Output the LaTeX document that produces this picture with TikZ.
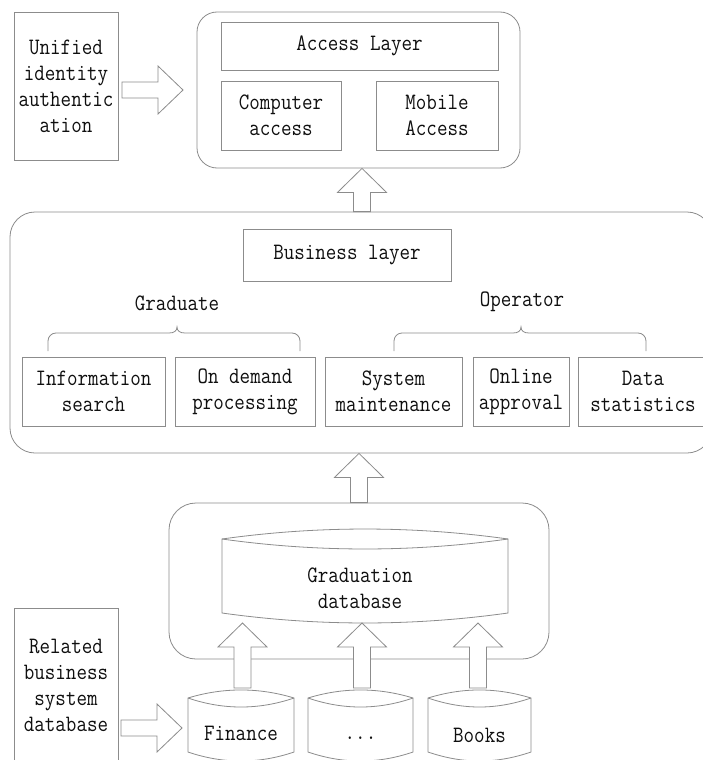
\documentclass[tikz,border=0pt]{standalone}
\usepackage{fontspec}
\setmonofont{Latin Modern Mono}[FakeStretch=0.87]
\usetikzlibrary{calc}
\definecolor{linec}{RGB}{140,140,140}
\definecolor{txtc}{RGB}{15,15,15}
\tikzset{
  box/.style={draw=linec, line width=0.8pt, fill=white, inner sep=0pt, align=center, text=txtc, font=\ttfamily\fontsize{23.5}{26}\selectfont},
  cont/.style={draw=linec, line width=0.8pt, inner sep=0pt},
  lbl/.style={inner sep=0pt, align=center, text=txtc, font=\ttfamily\fontsize{23.5}{26}\selectfont},
  arr/.style={draw=linec, line width=0.8pt, fill=white, line join=miter},
  cyl/.style={draw=linec, line width=0.8pt},
  brace/.style={draw=linec, line width=0.8pt},
}
\newcommand\uparr[2]{\draw[arr] let \p1=(#1), \p2=(#2) in
  (\x1-8.5pt,\y1) -- (\x1-8.5pt,\y2-24pt) -- (\x1-24.5pt,\y2-24pt) -- (\x1,\y2)
  -- (\x1+24.5pt,\y2-24pt) -- (\x1+8.5pt,\y2-24pt) -- (\x1+8.5pt,\y1) -- cycle;}
\newcommand\rtarr[2]{\draw[arr] let \p1=(#1), \p2=(#2) in
  (\x1,\y1+8pt) -- (\x2-25pt,\y1+8pt) -- (\x2-25pt,\y1+24pt) -- (\x2,\y1)
  -- (\x2-25pt,\y1-24pt) -- (\x2-25pt,\y1-8pt) -- (\x1,\y1-8pt) -- cycle;}
\newcommand\smallcyl[2]{%
  \draw[cyl, fill=white] (#1,752) -- (#1,698) .. controls (#1+35,687.3) and (#2-35,687.3) .. (#2,698)
    -- (#2,752) .. controls (#2-35,764) and (#1+35,764) .. (#1,752) -- cycle;
  \draw[cyl] (#1,698) .. controls (#1+35,710) and (#2-35,710) .. (#2,698);}
\begin{document}
\begin{tikzpicture}[x=1pt, y=-1pt]
\useasboundingbox (0,0) rectangle (703,760);
\clip (0,0) rectangle (703,760);
\fill[white] (0,0) rectangle (703,760);

% containers
\node[cont, rounded corners=20pt, minimum width=323pt, minimum height=156pt] (accessC) at (358.5,90) {};
\node[cont, rounded corners=25pt, minimum width=702pt, minimum height=241pt] (busC) at (361,332.5) {};
\node[cont, rounded corners=27pt, minimum width=380pt, minimum height=156pt] (dbC) at (359,581) {};

% access layer
\node[box, minimum width=277pt, minimum height=48pt] (accessL) at (359.5,46) {Access Layer};
\node[box, minimum width=120pt, minimum height=69pt] (comp) at (281,115.5) {Computer\\access};
\node[box, minimum width=122pt, minimum height=69pt] (mobile) at (437,115.5) {Mobile\\Access};

% unified
\node[box, minimum width=104pt, minimum height=148pt] (unified) at (66,86) {Unified\\identity\\authentic\\ation};

% business layer
\node[box, minimum width=208pt, minimum height=52pt] (busL) at (347,255) {Business layer};
\node[lbl] (grad) at (177,303) {Graduate};
\node[lbl] (oper) at (522,302) {Operator};
\node[box, minimum width=143pt, minimum height=69pt] (info) at (93.5,391.5) {Information\\search};
\node[box, minimum width=140pt, minimum height=69pt] (ondem) at (245,391.5) {On demand\\processing};
\node[box, minimum width=137pt, minimum height=69pt] (sysm) at (393.5,391.5) {System\\maintenance};
\node[box, minimum width=96pt, minimum height=69pt] (online) at (521,391.5) {Online\\approval};
\node[box, minimum width=130pt, minimum height=69pt] (data) at (643,391.5) {Data\\statistics};

% braces
\draw[brace] (48,351) -- (48,341) to[out=90,in=180] (56,333) -- (169,333)
  .. controls (174,333) and (177,331) .. (177,327)
  .. controls (177,331) and (180,333) .. (185,333) -- (292,333)
  to[out=0,in=90] (300,341) -- (300,351);
\draw[brace] (394,351) -- (394,341) to[out=90,in=180] (402,333) -- (513,333)
  .. controls (518,333) and (521,331) .. (521,327)
  .. controls (521,331) and (524,333) .. (529,333) -- (638,333)
  to[out=0,in=90] (646,341) -- (646,351);

% graduation database cylinder
\draw[cyl, fill=white] (222,613) -- (222,539) .. controls (317,525.7) and (413,525.7) .. (508,539)
  -- (508,613) .. controls (413,626.3) and (317,626.3) .. (222,613) -- cycle;
\draw[cyl] (222,539) .. controls (317,552.3) and (413,552.3) .. (508,539);
\node[lbl] (gradDB) at (360,588) {Graduation\\database};
\coordinate (gradBot) at (365,623);

% related
\node[box, minimum width=104pt, minimum height=155pt] (related) at (66,685.5) {Related\\business\\system\\database};

% small databases
\smallcyl{188}{294}
\smallcyl{308}{413}
\smallcyl{428}{531}
\node[lbl] (fin) at (241,733) {Finance};
\node[lbl] (dots) at (360.5,738) {...};
\node[lbl] (books) at (479.5,735) {Books};

% block arrows
\coordinate (r1s) at (122,90);
\coordinate (r1e) at (183,90);
\rtarr{r1s}{r1e}
\coordinate (r2s) at (121,728);
\coordinate (r2e) at (182,728);
\rtarr{r2s}{r2e}
\uparr{362,0 |- busC.north}{362,0 |- accessC.south}
\uparr{359,0 |- dbC.north}{359,0 |- busC.south}
\uparr{242.5,688}{242.5,0 |- gradBot}
\uparr{362,688}{362,0 |- gradBot}
\uparr{478,688}{478,0 |- gradBot}
\end{tikzpicture}
\end{document}
